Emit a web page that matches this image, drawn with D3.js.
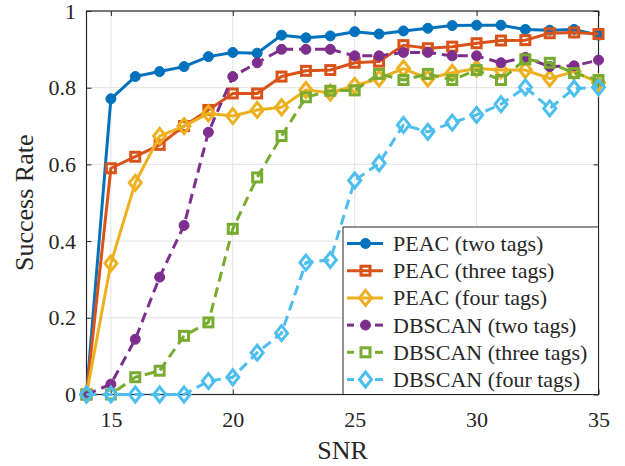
<!DOCTYPE html>
<html lang="en">
<head>
<meta charset="utf-8">
<title>Success Rate vs SNR</title>
<script src="https://cdn.jsdelivr.net/npm/d3@7"></script>
<style>
  body { margin: 0; background: #fff; }
  text { font-family: "Liberation Serif", "Times New Roman", serif; fill: #262626; }
</style>
</head>
<body>
<script>
// SNR values
var snr = [14, 15, 16, 17, 18, 19, 20, 21, 22, 23, 24, 25, 26, 27, 28, 29, 30, 31, 32, 33, 34, 35];

// success rates
var peacTwo    = [0, 0.771, 0.829, 0.842, 0.855, 0.881, 0.892, 0.890, 0.937, 0.930, 0.935, 0.946, 0.940, 0.948, 0.955, 0.962, 0.963, 0.963, 0.952, 0.950, 0.952, 0.937];
var peacThree  = [0, 0.590, 0.620, 0.651, 0.700, 0.742, 0.785, 0.785, 0.829, 0.844, 0.846, 0.865, 0.868, 0.911, 0.903, 0.907, 0.916, 0.923, 0.924, 0.942, 0.944, 0.940];
var peacFour   = [0, 0.342, 0.552, 0.674, 0.700, 0.733, 0.726, 0.742, 0.749, 0.794, 0.787, 0.805, 0.824, 0.850, 0.824, 0.839, 0.850, 0.846, 0.846, 0.824, 0.842, 0.813];
var dbTwo      = [0, 0.027, 0.144, 0.306, 0.441, 0.684, 0.829, 0.865, 0.900, 0.900, 0.900, 0.883, 0.883, 0.892, 0.892, 0.883, 0.883, 0.865, 0.879, 0.855, 0.857, 0.872];
var dbThree    = [0, 0, 0.045, 0.062, 0.153, 0.188, 0.432, 0.566, 0.674, 0.775, 0.792, 0.793, 0.836, 0.820, 0.836, 0.820, 0.846, 0.820, 0.874, 0.865, 0.838, 0.820];
var dbFour     = [0, 0, 0, 0, 0, 0.035, 0.045, 0.109, 0.160, 0.344, 0.351, 0.558, 0.603, 0.703, 0.685, 0.709, 0.729, 0.757, 0.801, 0.746, 0.798, 0.801];

var seriesNames = ["PEAC (two tags)", "PEAC (three tags)", "PEAC (four tags)",
                   "DBSCAN (two tags)", "DBSCAN (three tags)", "DBSCAN (four tags)"];
var xTicks = [15, 20, 25, 30, 35];
var yTicks = [0, 0.2, 0.4, 0.6, 0.8, 1];

var series = [
  { name: seriesNames[0], values: peacTwo,   color: "#0072BD", marker: "circle",  dash: null },
  { name: seriesNames[1], values: peacThree, color: "#D95319", marker: "square",  dash: null },
  { name: seriesNames[2], values: peacFour,  color: "#EDB120", marker: "diamond", dash: null },
  { name: seriesNames[3], values: dbTwo,     color: "#7E2F8E", marker: "circle",  dash: "10,6" },
  { name: seriesNames[4], values: dbThree,   color: "#77AC30", marker: "square",  dash: "10,6" },
  { name: seriesNames[5], values: dbFour,    color: "#4DBEEE", marker: "diamond", dash: "10,6" }
];

var W = 625, H = 466;
var pL = 86.5, pR = 598.5, pT = 11, pB = 394.5;

var svg = d3.select("body").append("svg")
  .attr("width", W).attr("height", H);

var x = d3.scaleLinear().domain([14, 35]).range([pL, pR]);
var y = d3.scaleLinear().domain([0, 1]).range([pB, pT]);

// grid
var grid = svg.append("g").attr("stroke", "#e3e3e3").attr("stroke-width", 1);
grid.selectAll(".gx").data(xTicks).enter().append("line")
  .attr("x1", d => x(d)).attr("x2", d => x(d)).attr("y1", pT).attr("y2", pB);
grid.selectAll(".gy").data(yTicks).enter().append("line")
  .attr("x1", pL).attr("x2", pR).attr("y1", d => y(d)).attr("y2", d => y(d));

// axes (MATLAB style: inner ticks, box on)
var tl = 5;
var xAxB = d3.axisBottom(x).tickValues(xTicks).tickSizeInner(-tl).tickSizeOuter(0).tickPadding(17).tickFormat(d3.format("d"));
var xAxT = d3.axisTop(x).tickValues(xTicks).tickSizeInner(-tl).tickSizeOuter(0).tickFormat("");
var yAxL = d3.axisLeft(y).tickValues(yTicks).tickSizeInner(-tl).tickSizeOuter(0).tickPadding(10.5).tickFormat(d => d === 0 || d === 1 ? d3.format("d")(d) : d3.format(".1f")(d));
var yAxR = d3.axisRight(y).tickValues(yTicks).tickSizeInner(-tl).tickSizeOuter(0).tickFormat("");

function styleAxis(g) {
  g.select(".domain").remove();
  g.selectAll("line").attr("stroke", "#262626").attr("stroke-width", 1);
  g.selectAll("text").style("font-family", "'Liberation Serif', serif").style("font-size", "22px").attr("fill", "#262626");
}
svg.append("g").attr("transform", "translate(0," + pB + ")").call(xAxB).call(styleAxis);
svg.append("g").attr("transform", "translate(0," + pT + ")").call(xAxT).call(styleAxis);
svg.append("g").attr("transform", "translate(" + pL + ",0)").call(yAxL).call(styleAxis);
svg.append("g").attr("transform", "translate(" + pR + ",0)").call(yAxR).call(styleAxis);

svg.append("rect")
  .attr("x", pL).attr("y", pT).attr("width", pR - pL).attr("height", pB - pT)
  .attr("fill", "none").attr("stroke", "#262626").attr("stroke-width", 1.2);

// axis labels
svg.append("text").attr("x", (pL + pR) / 2).attr("y", 459)
  .attr("text-anchor", "middle").style("font-size", "26px").text("SNR");
svg.append("text")
  .attr("transform", "translate(33," + ((pT + pB) / 2) + ") rotate(-90)")
  .attr("text-anchor", "middle").style("font-size", "26px").text("Success Rate");

// markers
function drawMarker(g, type, color) {
  if (type === "circle") {
    g.append("circle").attr("r", 5).attr("fill", color).attr("stroke", color).attr("stroke-width", 1);
  } else if (type === "square") {
    g.append("rect").attr("x", -4.5).attr("y", -4.5).attr("width", 9).attr("height", 9)
      .attr("fill", "none").attr("stroke", color).attr("stroke-width", 3);
  } else {
    g.append("path").attr("d", "M0,-7.5L6,0L0,7.5L-6,0Z")
      .attr("fill", "none").attr("stroke", color).attr("stroke-width", 3);
  }
}

var line = d3.line().x(d => x(d[0])).y(d => y(d[1]));

series.forEach(function(s) {
  var pts = snr.map((v, i) => [v, s.values[i]]);
  var g = svg.append("g");
  g.append("path").datum(pts).attr("d", line)
    .attr("fill", "none").attr("stroke", s.color).attr("stroke-width", 3)
    .attr("stroke-linejoin", "round")
    .attr("stroke-dasharray", s.dash);
  g.selectAll(".m").data(pts).enter().append("g")
    .attr("transform", d => "translate(" + x(d[0]) + "," + y(d[1]) + ")")
    .each(function() { drawMarker(d3.select(this), s.marker, s.color); });
});

// legend
var lg = svg.append("g");
lg.append("rect").attr("x", 343).attr("y", 227).attr("width", pR - 343).attr("height", pB - 227)
  .attr("fill", "#fff").attr("stroke", "#262626").attr("stroke-width", 1);
series.forEach(function(s, i) {
  var cy = 243.5 + i * 27.2;
  var row = lg.append("g");
  if (s.dash) {
    row.append("line").attr("x1", 347).attr("x2", 354).attr("y1", cy).attr("y2", cy)
      .attr("stroke", s.color).attr("stroke-width", 3);
    row.append("line").attr("x1", 375).attr("x2", 383).attr("y1", cy).attr("y2", cy)
      .attr("stroke", s.color).attr("stroke-width", 3);
  } else {
    row.append("line").attr("x1", 347).attr("x2", 383).attr("y1", cy).attr("y2", cy)
      .attr("stroke", s.color).attr("stroke-width", 3);
  }
  var mg = row.append("g").attr("transform", "translate(" + 365.5 + "," + cy + ")");
  drawMarker(mg, s.marker, s.color);
  row.append("text").attr("x", 393).attr("y", cy + 7.5).style("font-size", "22px").text(s.name);
});
</script>
</body>
</html>
